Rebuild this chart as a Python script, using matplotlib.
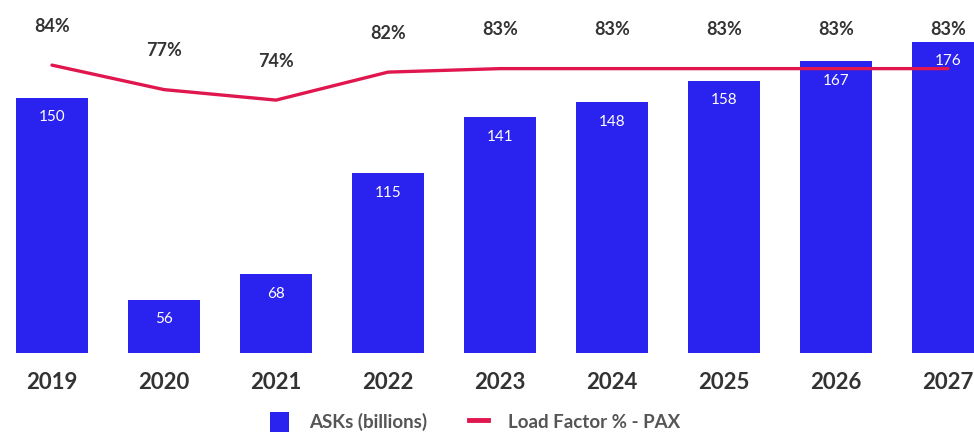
import matplotlib
matplotlib.use("Agg")
import matplotlib.pyplot as plt
from matplotlib.patches import Patch
from matplotlib.lines import Line2D

years = ["2019", "2020", "2021", "2022", "2023", "2024", "2025", "2026", "2027"]
asks_billions = [150, 56, 68, 115, 141, 148, 158, 167, 176]
load_factor_pct = [84, 77, 74, 82, 83, 83, 83, 83, 83]

BAR_COLOR = "#2a22ee"
LINE_COLOR = "#e0174f"
TEXT_DARK = "#333333"

plt.rcParams["font.family"] = ["Lato", "DejaVu Sans"]

fig = plt.figure(figsize=(9.74, 4.34), dpi=100)
ax = fig.add_axes([0.0, 81 / 434, 1.0, 333 / 434])
x = list(range(len(years)))

ax.bar(x, asks_billions, width=0.64, color=BAR_COLOR, zorder=2)
ax.set_ylim(31.3, 186.2)
ax.set_xlim(-0.464, 8.232)

for xi, v in zip(x, asks_billions):
    ax.annotate(f"{v}", (xi, v), xytext=(0, -14), textcoords="offset points",
                ha="center", va="center", color="white", fontsize=11, zorder=5)

ax2 = ax.twinx()
ax2.set_ylim(1.7, 96.9)
ax2.plot(x, load_factor_pct, color=LINE_COLOR, lw=2.4, zorder=4, solid_capstyle="round")
for xi, v in zip(x, load_factor_pct):
    ax2.annotate(f"{v}%", (xi, v), xytext=(0, 28), textcoords="offset points",
                 ha="center", va="center", color=TEXT_DARK, fontsize=13,
                 fontweight="bold")

ax.set_xticks(x)
ax.set_xticklabels(years, fontsize=16, fontweight="bold", color=TEXT_DARK)
ax.tick_params(axis="x", length=0, pad=14)
ax.tick_params(axis="y", left=False, right=False, labelleft=False, labelright=False)
ax2.tick_params(axis="y", left=False, right=False, labelleft=False, labelright=False)
ax2.set_yticks([])
ax.set_yticks([])
for a in (ax, ax2):
    for s in a.spines.values():
        s.set_visible(False)

handles = [
    Patch(facecolor=BAR_COLOR, edgecolor="none", label="ASKs (billions)"),
    Line2D([0], [0], color=LINE_COLOR, lw=3.5, label="Load Factor % - PAX"),
]
leg = fig.legend(handles=handles, loc="center", bbox_to_anchor=(0.488, 12 / 434),
                 ncol=2, frameon=False, fontsize=13.5, handlelength=1.0,
                 handleheight=1.2, columnspacing=2.2, handletextpad=1.1)
for t in leg.get_texts():
    t.set_color("#555555")
    t.set_fontweight("bold")

fig.savefig("out.png", dpi=100)
